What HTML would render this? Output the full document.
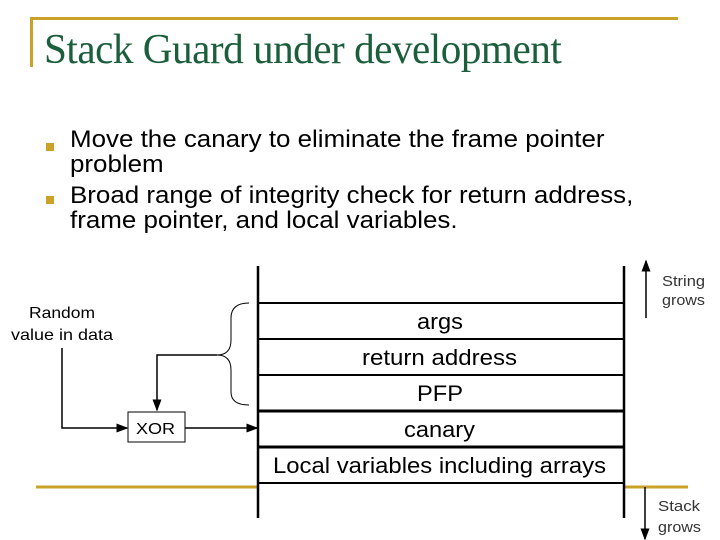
<!DOCTYPE html>
<html><head><style>
body{margin:0;width:720px;height:540px;background:#fff;position:relative;overflow:hidden;font-family:"Liberation Sans",sans-serif}
.a{position:absolute;white-space:nowrap}
</style></head><body>
<div class="a" style="left:30px;top:17px;width:648px;height:3px;background:#c9a227"></div>
<div class="a" style="left:30px;top:17px;width:3px;height:50px;background:#c9a227"></div>
<div class="a" style="left:44px;top:26px;font-family:'Liberation Serif',serif;font-size:42px;color:#1b5e3b;letter-spacing:-0.5px;transform:scaleX(0.98);transform-origin:left">Stack Guard under development</div>
<div class="a" style="left:46px;top:143px;width:8px;height:8px;background:#c9a227"></div>
<div class="a" style="left:46px;top:196px;width:8px;height:8px;background:#c9a227"></div>
<div class="a" style="left:70px;top:127px;font-size:24px;line-height:25px;color:#000;transform:scaleX(1.08);transform-origin:left">Move the canary to eliminate the frame pointer<br>problem</div>
<div class="a" style="left:70px;top:183px;font-size:24px;line-height:25px;color:#000;transform:scaleX(1.08);transform-origin:left">Broad range of integrity check for return address,<br>frame pointer, and local variables.</div>
<svg class="a" style="left:0;top:0" width="720" height="540">
<defs><marker id="m" markerWidth="8" markerHeight="8" refX="7" refY="4" orient="auto"><path d="M0,1 L8,4 L0,7z" fill="#000"/></marker></defs>
<g stroke="#c9a227" stroke-width="3"><line x1="36" y1="487" x2="258" y2="487"/><line x1="625" y1="487" x2="688" y2="487"/></g>
<g stroke="#000" stroke-width="2.5"><line x1="258" y1="266" x2="258" y2="518"/><line x1="624" y1="266" x2="624" y2="518"/></g>
<g stroke="#000" stroke-width="2"><line x1="258" y1="303" x2="624" y2="303"/><line x1="258" y1="339" x2="624" y2="339"/><line x1="258" y1="375" x2="624" y2="375"/><line x1="258" y1="483" x2="624" y2="483"/></g>
<g stroke="#000" stroke-width="3"><line x1="258" y1="411" x2="624" y2="411"/><line x1="258" y1="447" x2="624" y2="447"/></g>
<path d="M249,303 Q231,303 231,318 L231,340 Q231,355 217,355 Q231,355 231,370 L231,392 Q231,405 249,405" fill="none" stroke="#000" stroke-width="1"/>
<g fill="none" stroke="#000" stroke-width="1.5">
<polyline points="217,355 157,355 157,410" marker-end="url(#m)"/>
<polyline points="62,348 62,428 127,428" marker-end="url(#m)"/>
<line x1="185" y1="428" x2="257" y2="428" marker-end="url(#m)"/>
<line x1="646" y1="318" x2="646" y2="261" marker-end="url(#m)"/>
<line x1="645" y1="487" x2="645" y2="539" marker-end="url(#m)"/>
</g>
<rect x="128" y="412" width="57" height="30" fill="#fff" stroke="#000" stroke-width="1"/>
<g font-size="22" fill="#000" lengthAdjust="spacingAndGlyphs">
<text x="417" y="329" textLength="46" lengthAdjust="spacingAndGlyphs">args</text>
<text x="362" y="365" textLength="155" lengthAdjust="spacingAndGlyphs">return address</text>
<text x="417" y="401" textLength="46" lengthAdjust="spacingAndGlyphs">PFP</text>
<text x="404" y="437" textLength="71" lengthAdjust="spacingAndGlyphs">canary</text>
<text x="273" y="473" textLength="333" lengthAdjust="spacingAndGlyphs">Local variables including arrays</text>
</g>
<g font-size="16" fill="#000">
<text x="136" y="434" textLength="39" lengthAdjust="spacingAndGlyphs">XOR</text>
<text x="29" y="318" textLength="66" lengthAdjust="spacingAndGlyphs">Random</text>
<text x="11" y="340" textLength="102" lengthAdjust="spacingAndGlyphs">value in data</text>
</g>
<g font-size="15" fill="#333">
<text x="662" y="286" textLength="43" lengthAdjust="spacingAndGlyphs">String</text>
<text x="662" y="305" textLength="43" lengthAdjust="spacingAndGlyphs">grows</text>
<text x="658" y="511" textLength="42" lengthAdjust="spacingAndGlyphs">Stack</text>
<text x="658" y="532" textLength="43" lengthAdjust="spacingAndGlyphs">grows</text>
</g>
</svg>
</body></html>
